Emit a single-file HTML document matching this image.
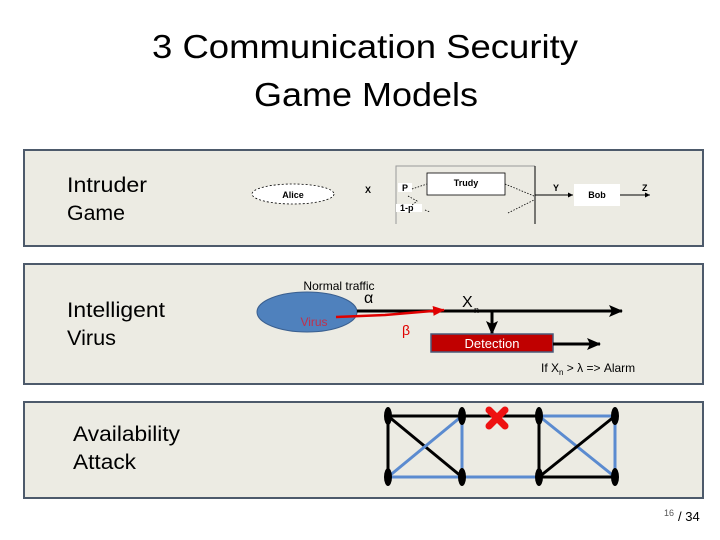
<!DOCTYPE html>
<html><head><meta charset="utf-8"><style>
html,body{margin:0;padding:0;background:#fff;}
body{width:720px;height:540px;overflow:hidden;position:relative;font-family:"Liberation Sans",sans-serif;}
</style></head><body>
<svg width="720" height="540" viewBox="0 0 720 540" xmlns="http://www.w3.org/2000/svg" style="position:absolute;left:0;top:0">
<defs>
<marker id="as" markerWidth="5" markerHeight="5" refX="5" refY="2.5" orient="auto" markerUnits="userSpaceOnUse"><path d="M0,0 L5,2.5 L0,5 z" fill="#000"/></marker>
<marker id="ar" markerWidth="12" markerHeight="10" refX="11" refY="5" orient="auto" markerUnits="userSpaceOnUse"><path d="M0,0 L12,5 L0,10 z" fill="#e00000"/></marker>
<marker id="ak" markerWidth="14" markerHeight="12" refX="13" refY="6" orient="auto" markerUnits="userSpaceOnUse"><path d="M0,0 L14,6 L0,12 L3,6 z" fill="#000"/></marker>
</defs>
<g font-family="Liberation Sans, sans-serif">
<text x="152" y="58" font-size="33" textLength="426" lengthAdjust="spacingAndGlyphs" fill="#000">3 Communication Security</text>
<text x="254" y="106" font-size="33" textLength="224" lengthAdjust="spacingAndGlyphs" fill="#000">Game Models</text>

<rect x="24" y="150" width="679" height="96" fill="#ecebe3" stroke="#4d5a6b" stroke-width="2"/>
<rect x="24" y="264" width="679" height="120" fill="#ecebe3" stroke="#4d5a6b" stroke-width="2"/>
<rect x="24" y="402" width="679" height="96" fill="#ecebe3" stroke="#4d5a6b" stroke-width="2"/>

<text x="67" y="192" font-size="21" textLength="80" lengthAdjust="spacingAndGlyphs">Intruder</text>
<text x="67" y="220" font-size="21" textLength="58" lengthAdjust="spacingAndGlyphs">Game</text>
<text x="67" y="317" font-size="21" textLength="98" lengthAdjust="spacingAndGlyphs">Intelligent</text>
<text x="67" y="345" font-size="21" textLength="49" lengthAdjust="spacingAndGlyphs">Virus</text>
<text x="73" y="441" font-size="21" textLength="107" lengthAdjust="spacingAndGlyphs">Availability</text>
<text x="73" y="469" font-size="21" textLength="63" lengthAdjust="spacingAndGlyphs">Attack</text>

<!-- Intruder -->
<ellipse cx="293" cy="194" rx="41" ry="10" fill="#fff" stroke="#000" stroke-width="0.8" stroke-dasharray="2,2"/>
<text x="293" y="198" font-size="9" font-weight="bold" text-anchor="middle">Alice</text>
<text x="365" y="193" font-size="9" font-weight="bold">X</text>
<path d="M396,224 L396,166 L535,166" fill="none" stroke="#999" stroke-width="1"/>
<line x1="535" y1="166" x2="535" y2="224" stroke="#000" stroke-width="1"/>
<rect x="427" y="173" width="78" height="22" fill="#fff" stroke="#000" stroke-width="0.8"/>
<text x="466" y="186" font-size="9" font-weight="bold" text-anchor="middle">Trudy</text>
<rect x="398" y="183" width="14" height="9" fill="#fff"/>
<text x="402" y="191" font-size="9" font-weight="bold">P</text>
<rect x="396" y="204" width="26" height="8" fill="#fff"/>
<text x="400" y="211" font-size="9" font-weight="bold">1-p</text>
<path d="M412,189 L427,184 M408,196 L417,201 L412,205 M425,210 L430,212 M505,184 L534,196 M508,213 L534,200" stroke="#000" stroke-width="0.8" stroke-dasharray="1.5,1.5" fill="none"/>
<line x1="535" y1="195" x2="573" y2="195" stroke="#000" stroke-width="1" marker-end="url(#as)"/>
<text x="553" y="191" font-size="9" font-weight="bold">Y</text>
<rect x="574" y="184" width="46" height="22" fill="#fff"/>
<text x="597" y="198" font-size="9" font-weight="bold" text-anchor="middle">Bob</text>
<line x1="620" y1="195" x2="650" y2="195" stroke="#000" stroke-width="1" marker-end="url(#as)"/>
<text x="642" y="191" font-size="9" font-weight="bold">Z</text>

<!-- Virus -->
<ellipse cx="307" cy="312" rx="50" ry="20" fill="#4f81bd" stroke="#3a5f8f" stroke-width="1"/>
<text x="339" y="290" font-size="12" text-anchor="middle">Normal traffic</text>
<text x="314" y="326" font-size="12" fill="#c0304c" text-anchor="middle">Virus</text>
<text x="364" y="303" font-size="16">α</text>
<line x1="357" y1="311" x2="622" y2="311" stroke="#000" stroke-width="3" marker-end="url(#ak)"/>
<path d="M336,317 L385,315 L444,310" fill="none" stroke="#e00000" stroke-width="2.5" marker-end="url(#ar)"/>
<text x="462" y="307" font-size="16">X</text><text x="474" y="313" font-size="9">n</text>
<text x="402" y="335" font-size="14" fill="#e00000">β</text>
<line x1="492" y1="311" x2="492" y2="334" stroke="#000" stroke-width="3" marker-end="url(#ak)"/>
<rect x="431" y="334" width="122" height="18" fill="#c00000" stroke="#4a5a7a" stroke-width="1.5"/>
<text x="492" y="348" font-size="13" fill="#fff" text-anchor="middle">Detection</text>
<line x1="553" y1="344" x2="600" y2="344" stroke="#000" stroke-width="3" marker-end="url(#ak)"/>
<text x="541" y="372" font-size="12">If X<tspan font-size="8" dy="3">n</tspan><tspan dy="-3"> &gt; λ  =&gt; Alarm</tspan></text>

<!-- Network -->
<g stroke-width="3" fill="none">
<line x1="388" y1="416" x2="539" y2="416" stroke="#000"/>
<line x1="539" y1="416" x2="615" y2="416" stroke="#5b8bd0"/>
<line x1="388" y1="416" x2="388" y2="477" stroke="#000"/>
<line x1="388" y1="416" x2="462" y2="477" stroke="#000"/>
<line x1="388" y1="477" x2="462" y2="416" stroke="#5b8bd0"/>
<line x1="462" y1="416" x2="462" y2="477" stroke="#5b8bd0"/>
<line x1="388" y1="477" x2="539" y2="477" stroke="#5b8bd0"/>
<line x1="539" y1="416" x2="539" y2="477" stroke="#000"/>
<line x1="539" y1="416" x2="615" y2="477" stroke="#5b8bd0"/>
<line x1="539" y1="477" x2="615" y2="416" stroke="#000"/>
<line x1="615" y1="416" x2="615" y2="477" stroke="#5b8bd0"/>
<line x1="539" y1="477" x2="615" y2="477" stroke="#000"/>
</g>
<g fill="#000">
<ellipse cx="388" cy="416" rx="4" ry="9"/><ellipse cx="462" cy="416" rx="4" ry="9"/>
<ellipse cx="539" cy="416" rx="4" ry="9"/><ellipse cx="615" cy="416" rx="4" ry="9"/>
<ellipse cx="388" cy="477" rx="4" ry="9"/><ellipse cx="462" cy="477" rx="4" ry="9"/>
<ellipse cx="539" cy="477" rx="4" ry="9"/><ellipse cx="615" cy="477" rx="4" ry="9"/>
</g>
<g stroke="#ee1111" stroke-width="7" stroke-linecap="round">
<line x1="489" y1="410" x2="505" y2="426"/><line x1="505" y1="410" x2="489" y2="426"/>
</g>

<text x="664" y="516" font-size="9" fill="#555">16</text>
<text x="678" y="521" font-size="13" fill="#000">/ 34</text>
</g>
</svg>
</body></html>
